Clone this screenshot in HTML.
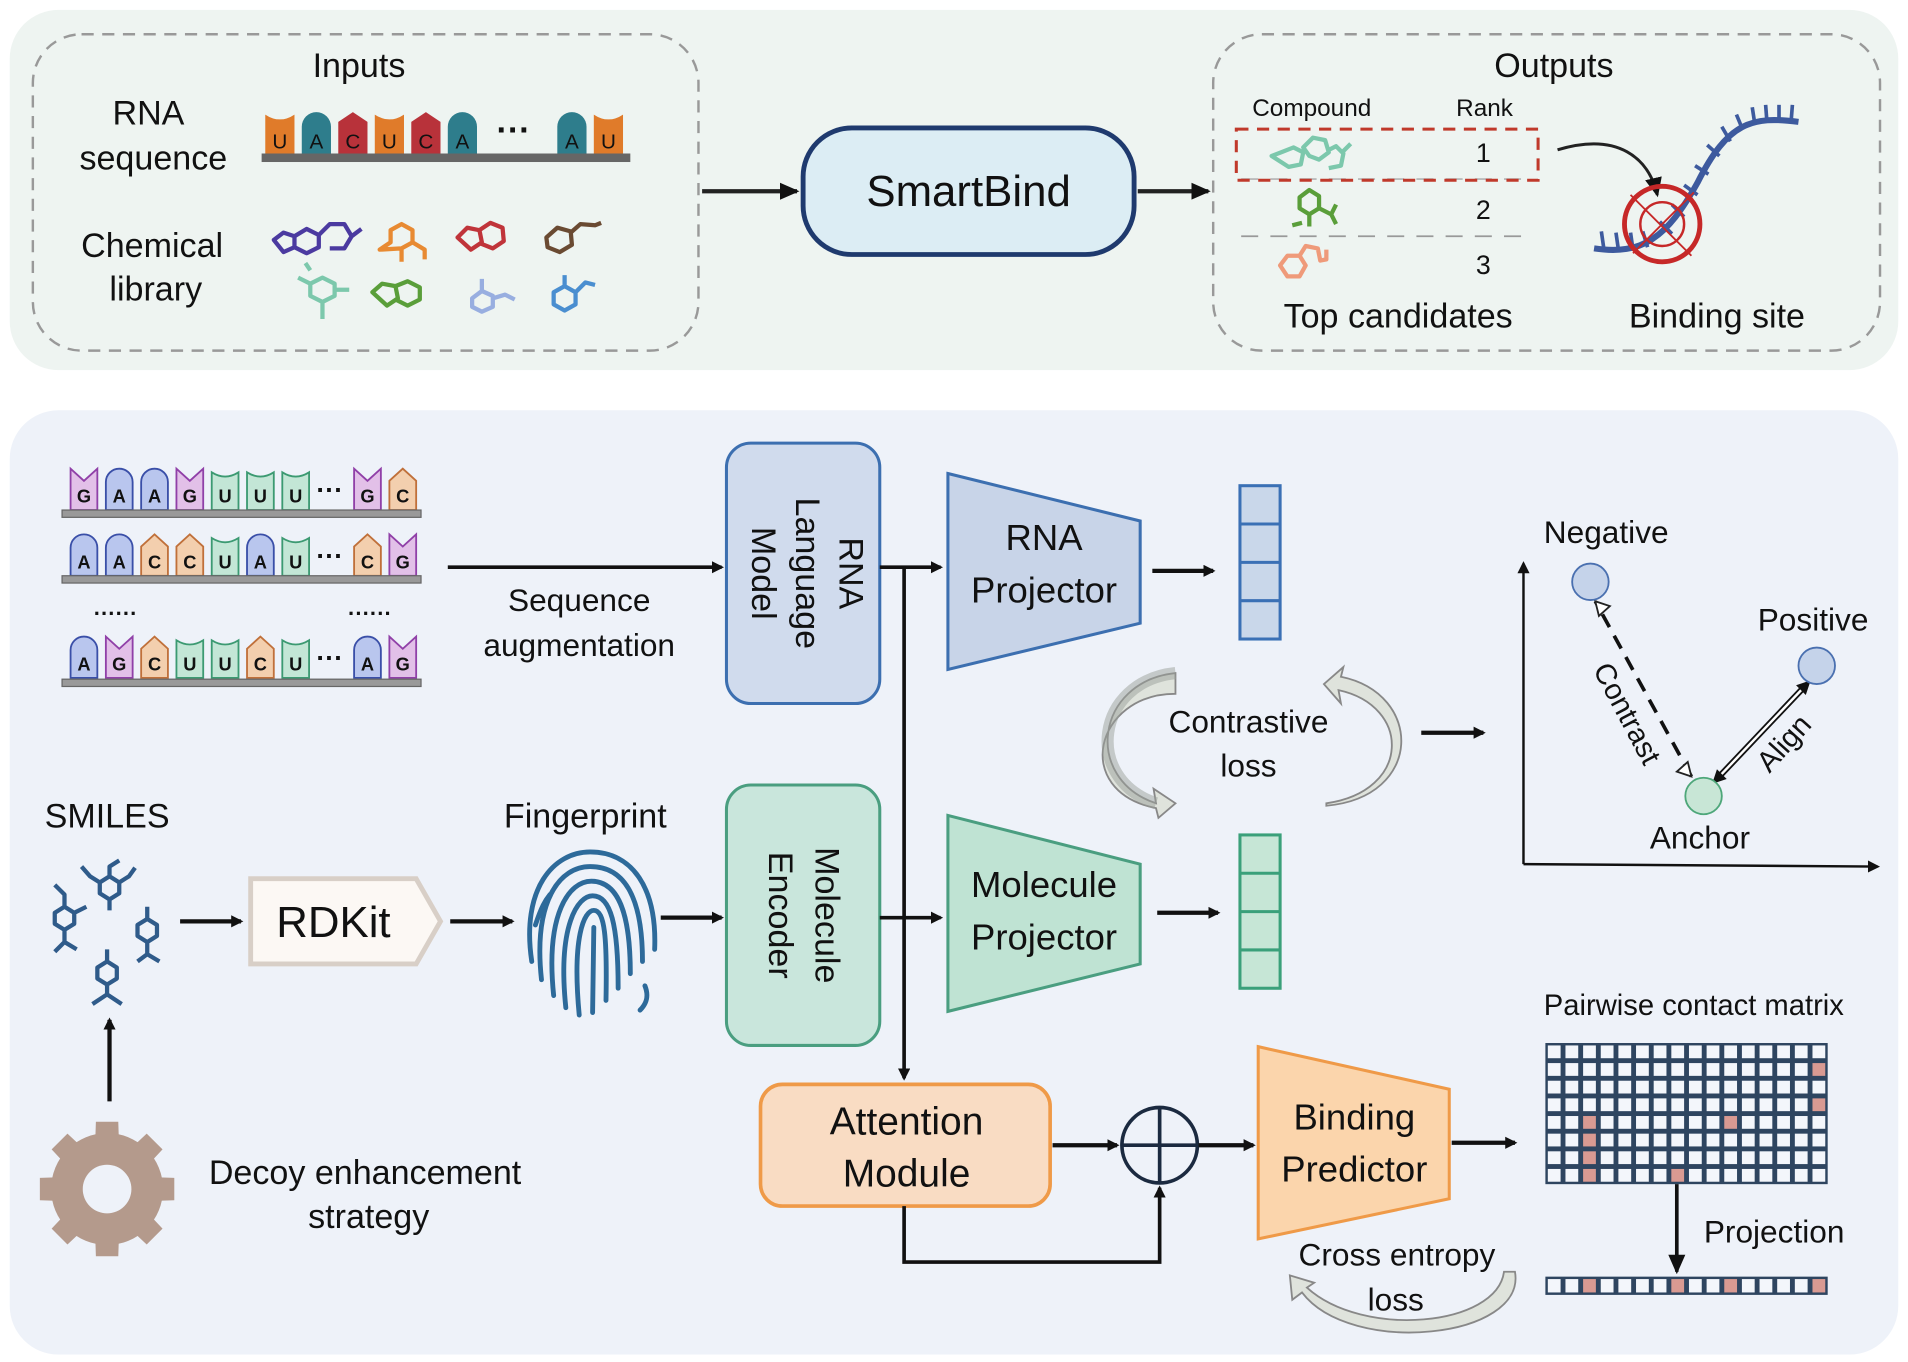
<!DOCTYPE html>
<html><head><meta charset="utf-8"><style>
html,body{margin:0;padding:0;background:#fff;}
svg{display:block;}
text{font-family:"Liberation Sans",sans-serif;fill:#111;}
</style></head><body>
<svg id="s" width="1908" height="1362" viewBox="0 0 1568 1119" xmlns="http://www.w3.org/2000/svg">
<defs>
<marker id="ah" markerWidth="10" markerHeight="10" refX="8" refY="5" orient="auto" markerUnits="userSpaceOnUse"><path d="M0,0 L10,5 L0,10 z" fill="#111"/></marker>
<marker id="ahb" markerWidth="16" markerHeight="16" refX="14" refY="8" orient="auto" markerUnits="userSpaceOnUse"><path d="M0,1 L16,8 L0,15 z" fill="#111"/></marker>
<marker id="tri" markerWidth="14" markerHeight="14" refX="12" refY="7" orient="auto" markerUnits="userSpaceOnUse"><path d="M1,1 L12,7 L1,13 z" fill="#fff" stroke="#222" stroke-width="1.5"/></marker>
</defs>
<!-- top panel -->
<rect x="8" y="8" width="1552" height="296" rx="40" fill="#eef4f1"/>
<rect x="27" y="28" width="547" height="260" rx="40" fill="none" stroke="#999" stroke-width="2" stroke-dasharray="10,7"/>
<rect x="997" y="28" width="548" height="260" rx="40" fill="none" stroke="#999" stroke-width="2" stroke-dasharray="10,7"/>
<g font-size="28" text-anchor="middle">
<text x="295" y="63">Inputs</text>
<text x="122" y="102">RNA</text>
<text x="126" y="139">sequence</text>
<text x="125" y="211">Chemical</text>
<text x="128" y="247">library</text>
<text x="1277" y="63">Outputs</text>
<text x="1149" y="269">Top candidates</text>
<text x="1411" y="269">Binding site</text>
</g>
<rect x="215" y="126" width="303" height="7" fill="#666"/>
<g id="topbases"></g>
<text x="422" y="116" font-size="28" text-anchor="middle" font-weight="bold">···</text>
<!-- chemical library doodles -->
<g fill="none" stroke-width="3.5" stroke-linejoin="round">
<path d="M225,197 l8,-6 l9,3 l0,9 l-9,4 z M242,194 l10,-6 l10,5 l0,10 l-10,5 l-10,-5 M262,193 l9,-9 l12,0 l6,10 l-6,10 l-12,0 M289,194 l8,-6" stroke="#4b3aa0"/>
<path d="M312,205 l9,-6 l0,-10 l9,-5 l9,5 l0,10 l-9,5 z M339,199 l10,6 l0,8 M330,205 l0,10" stroke="#e88a32"/>
<path d="M376,195 l8,-8 l10,2 l2,10 l-9,6 z M394,189 l9,-6 l10,4 l1,11 l-9,6 l-10,-4" stroke="#c0343a"/>
<path d="M449,195 l9,-8 l11,3 l1,11 l-10,6 l-10,-4 z M469,191 l8,-7 l12,1 l5,-2" stroke="#6a4a32"/>
<path d="M245,228 l10,5 l0,10 l10,5 l10,-5 l0,-10 l-10,-5 l-10,5 M265,248 l0,14 M275,238 l12,0 M255,222 l-4,-6" stroke="#7cc8ac"/>
<path d="M306,240 l8,-7 l11,2 l2,10 l-9,6 z M325,235 l10,-4 l10,5 l0,10 l-10,5 l-10,-5" stroke="#5a9e3a"/>
<path d="M388,245 l8,-6 l9,4 l0,9 l-9,4 l-8,-4 z M405,245 l10,-3 l8,4 M396,239 l0,-10" stroke="#98aee0"/>
<path d="M455,240 l9,-5 l9,5 l0,10 l-9,5 l-9,-5 z M473,240 l8,-8 l8,2 M464,235 l0,-9" stroke="#4a8ed0"/>
</g>
<!-- SmartBind -->
<line x1="577" y1="157" x2="655" y2="157" stroke="#222" stroke-width="3.5" marker-end="url(#ahb)"/>
<rect x="660" y="105" width="272" height="104" rx="40" fill="#dcedf4" stroke="#1f3a6e" stroke-width="4"/>
<text x="796" y="169" font-size="36" text-anchor="middle">SmartBind</text>
<line x1="935" y1="157" x2="993" y2="157" stroke="#222" stroke-width="3.5" marker-end="url(#ahb)"/>
<!-- outputs -->
<text x="1078" y="95" font-size="20" text-anchor="middle">Compound</text>
<text x="1220" y="95" font-size="20" text-anchor="middle">Rank</text>
<line x1="1020" y1="147" x2="1256" y2="147" stroke="#bbb" stroke-width="1.5" stroke-dasharray="14,10"/>
<line x1="1020" y1="194" x2="1256" y2="194" stroke="#999" stroke-width="1.5" stroke-dasharray="14,10"/>
<rect x="1016" y="106" width="248" height="42" fill="none" stroke="#c0392b" stroke-width="2.5" stroke-dasharray="10,7"/>
<g font-size="22" text-anchor="middle"><text x="1219" y="133">1</text><text x="1219" y="180">2</text><text x="1219" y="225">3</text></g>
<g fill="none" stroke-width="3.5" stroke-linejoin="round">
<path d="M1045,128 l8,-3 l10,-4 l8,4 l-2,10 l-10,2 z M1071,121 l8,-8 l10,2 l3,10 l-8,6 l-8,-3 z M1092,123 l6,-3 l6,6 l-2,10 l-10,2 M1104,124 l6,-6" stroke="#7cc8ac"/>
<path d="M1068,162 l8,-6 l8,5 l0,10 l-8,5 l-8,-5 z M1076,176 l0,10 M1070,183 l-8,2 M1084,171 l10,5 l4,8 M1094,176 l4,-8" stroke="#5a9e3a"/>
<path d="M1052,218 l6,-8 l10,0 l5,8 l-5,9 l-10,0 z M1068,210 l5,-8 l10,2 l2,10 l5,-1 l0,-8" stroke="#ef9a7a"/>
</g>
<path d="M1280,123 C1330,108 1355,130 1362,160" fill="none" stroke="#222" stroke-width="2.5" marker-end="url(#ahb)"/>
<path d="M1310,204 C1350,210 1370,195 1395,150 C1420,100 1440,95 1478,100" fill="none" stroke="#3d5a9e" stroke-width="5"/>
<g id="ticks" stroke="#3d5a9e" stroke-width="3"></g>
<circle cx="1366" cy="184" r="31" fill="none" stroke="#c62828" stroke-width="4"/>
<circle cx="1366" cy="184" r="18" fill="none" stroke="#c62828" stroke-width="2"/>
<path d="M1340,160 l50,50 M1392,158 l-50,50" stroke="#c62828" stroke-width="1.5"/>
<!-- bottom panel -->
<rect x="8" y="337" width="1552" height="776" rx="40" fill="#eef2f9"/>
<g id="bases2"></g>
<rect x="51" y="419" width="295" height="6" fill="#999" stroke="#666"/>
<rect x="51" y="473" width="295" height="6" fill="#999" stroke="#666"/>
<rect x="51" y="558" width="295" height="6" fill="#999" stroke="#666"/>
<g font-size="22" font-weight="bold" text-anchor="middle"><text x="271" y="410">···</text><text x="271" y="464">···</text><text x="271" y="548">···</text>
<text x="95" y="510" font-size="18">······</text><text x="304" y="510" font-size="18">······</text></g>
<line x1="368" y1="466" x2="593" y2="466" stroke="#111" stroke-width="3" marker-end="url(#ah)"/>
<g font-size="26" text-anchor="middle"><text x="476" y="502">Sequence</text><text x="476" y="539">augmentation</text></g>
<rect x="597" y="364" width="126" height="214" rx="20" fill="#d0dbed" stroke="#3c6fb0" stroke-width="2.5"/>
<g font-size="28" text-anchor="middle" transform="translate(660,471) rotate(90)"><text x="0" y="-30">RNA</text><text x="0" y="6">Language</text><text x="0" y="42">Model</text></g>
<line x1="723" y1="466" x2="773" y2="466" stroke="#111" stroke-width="3" marker-end="url(#ah)"/>
<line x1="743" y1="466" x2="743" y2="886" stroke="#111" stroke-width="3" marker-end="url(#ah)"/>
<polygon points="779,389 937,428 937,512 779,550" fill="#c8d4e8" stroke="#3c6fb0" stroke-width="2.5"/>
<g font-size="30" text-anchor="middle"><text x="858" y="452">RNA</text><text x="858" y="495">Projector</text></g>
<line x1="947" y1="469" x2="997" y2="469" stroke="#111" stroke-width="3.5" marker-end="url(#ah)"/>
<rect x="1019" y="399" width="33" height="126" fill="#c9d7ea" stroke="#3a70b5" stroke-width="2.5"/>
<path d="M1019,430.5h33M1019,462h33M1019,493.5h33" stroke="#3a70b5" stroke-width="2.5"/>
<!-- contrastive -->
<path d="M966,553 C900,560 890,640 950,660 L948,648 L966,660 L952,672 L950,664 C880,650 900,570 966,570 z" fill="#dfe3dc" stroke="#888" stroke-width="1.5"/>
<path d="M1090,660 C1160,650 1160,580 1100,567 L1102,578 L1088,562 L1104,548 L1102,556 C1170,570 1170,655 1090,662 z" fill="#dfe3dc" stroke="#888" stroke-width="1.5"/>
<path d="M966,553 C900,560 890,640 950,660" fill="none" stroke="#9aa09a" stroke-width="10" opacity="0.5"/>
<g font-size="26" text-anchor="middle"><text x="1026" y="602">Contrastive</text><text x="1026" y="638">loss</text></g>
<line x1="1168" y1="602" x2="1219" y2="602" stroke="#111" stroke-width="3.5" marker-end="url(#ah)"/>
<!-- plot -->
<line x1="1252" y1="710" x2="1252" y2="463" stroke="#111" stroke-width="2" marker-end="url(#ah)"/>
<line x1="1252" y1="710" x2="1543" y2="712" stroke="#111" stroke-width="2" marker-end="url(#ah)"/>
<line x1="1390" y1="638" x2="1311" y2="494" stroke="#111" stroke-width="3" stroke-dasharray="12,8"/>
<path d="M1311,494 l12,4 l-9,8 z" fill="#fff" stroke="#222" stroke-width="1.5"/>
<path d="M1390,638 l-12,-4 l9,-8 z" fill="#fff" stroke="#222" stroke-width="1.5"/>
<line x1="1411" y1="640" x2="1484" y2="563" stroke="#111" stroke-width="5"/>
<line x1="1411" y1="640" x2="1484" y2="563" stroke="#fff" stroke-width="2"/>
<path d="M1407,644 l4,-12 l8,8 z M1488,559 l-4,12 l-8,-8 z" fill="#111"/>
<circle cx="1307" cy="478" r="15" fill="#c5d3ea" stroke="#4a70b0" stroke-width="1.5"/>
<circle cx="1493" cy="547" r="15" fill="#c5d3ea" stroke="#4a70b0" stroke-width="1.5"/>
<circle cx="1400" cy="654" r="15" fill="#c8e6d6" stroke="#4ea77a" stroke-width="1.5"/>
<g font-size="26" text-anchor="middle"><text x="1320" y="446">Negative</text><text x="1490" y="518">Positive</text><text x="1397" y="697">Anchor</text>
<text transform="translate(1330,590) rotate(62)" font-size="24">Contrast</text>
<text transform="translate(1472,616) rotate(-48)" font-size="24">Align</text></g>
<!-- molecule path -->
<text x="88" y="680" font-size="28" text-anchor="middle">SMILES</text>
<g fill="none" stroke="#2f5b8a" stroke-width="3.5" stroke-linejoin="round">
<path d="M82,725 l8,-5 l8,5 l0,9 l-8,5 l-8,-5 z M90,720 l0,-8 l8,-5 M98,725 l8,-5 l5,-7 M82,725 l-8,-5 l-7,-8 M90,739 l0,9"/>
<path d="M45,750 l8,-5 l8,5 l0,9 l-8,5 l-8,-5 z M53,745 l0,-10 l-8,-8 M53,764 l0,10 l-8,8 M53,774 l10,6 M61,750 l10,-5"/>
<path d="M113,760 l8,-5 l8,5 l0,9 l-8,5 l-8,-5 z M121,755 l0,-10 M121,774 l0,10 l-8,6 M121,784 l10,6"/>
<path d="M80,795 l8,-5 l8,5 l0,9 l-8,5 l-8,-5 z M88,790 l0,-10 M88,809 l0,8 l-12,8 M88,817 l12,8"/>
</g>
<line x1="148" y1="757" x2="198" y2="757" stroke="#111" stroke-width="3.5" marker-end="url(#ah)"/>
<polygon points="206,722 342,722 362,757 342,792 206,792" fill="#fcf8f4" stroke="#d8cfc7" stroke-width="4"/>
<text x="274" y="770" font-size="36" text-anchor="middle">RDKit</text>
<line x1="370" y1="757" x2="421" y2="757" stroke="#111" stroke-width="3.5" marker-end="url(#ah)"/>
<text x="481" y="680" font-size="28" text-anchor="middle">Fingerprint</text>
<g fill="none" stroke="#2d6a9a" stroke-width="4" stroke-linecap="round">
<path d="M437,790 C428,730 455,700 485,700 C520,700 540,730 538,780"/>
<path d="M445,805 C438,740 460,712 485,712 C515,712 528,740 528,790"/>
<path d="M455,818 C448,750 468,724 486,724 C508,724 518,750 518,800"/>
<path d="M465,828 C458,760 475,736 487,736 C502,736 508,760 508,812"/>
<path d="M476,834 C470,770 480,748 488,748 C497,748 499,770 498,822"/>
<path d="M487,832 L488,762"/>
<path d="M440,760 C445,745 448,740 452,735 M530,810 C534,820 530,826 526,830"/>
</g>
<line x1="543" y1="754" x2="593" y2="754" stroke="#111" stroke-width="3.5" marker-end="url(#ah)"/>
<rect x="597" y="645" width="126" height="214" rx="20" fill="#c9e6dc" stroke="#4a9e80" stroke-width="2.5"/>
<g font-size="28" text-anchor="middle" transform="translate(660,752) rotate(90)"><text x="0" y="-10">Molecule</text><text x="0" y="28">Encoder</text></g>
<line x1="723" y1="754" x2="773" y2="754" stroke="#111" stroke-width="3" marker-end="url(#ah)"/>
<polygon points="779,670 937,710 937,792 779,831" fill="#bfe3d3" stroke="#4a9e80" stroke-width="2.5"/>
<g font-size="30" text-anchor="middle"><text x="858" y="737">Molecule</text><text x="858" y="780">Projector</text></g>
<line x1="951" y1="750" x2="1001" y2="750" stroke="#111" stroke-width="3.5" marker-end="url(#ah)"/>
<rect x="1019" y="686" width="33" height="126" fill="#c6e6d6" stroke="#3aa07a" stroke-width="2.5"/>
<path d="M1019,717.5h33M1019,749h33M1019,780.5h33" stroke="#3aa07a" stroke-width="2.5"/>
<!-- decoy -->
<line x1="90" y1="905" x2="90" y2="838" stroke="#111" stroke-width="3.5" marker-end="url(#ah)"/>
<g transform="translate(88,977)"><g id="gear" fill="#b49a8c"></g><circle r="20" fill="#eef2f9"/></g>
<g font-size="28" text-anchor="middle"><text x="300" y="973">Decoy enhancement</text><text x="303" y="1009">strategy</text></g>
<!-- attention -->
<rect x="625" y="891" width="238" height="100" rx="18" fill="#f9dcc3" stroke="#ef9a48" stroke-width="3"/>
<g font-size="32" text-anchor="middle"><text x="745" y="932">Attention</text><text x="745" y="975">Module</text></g>
<line x1="865" y1="941" x2="918" y2="941" stroke="#111" stroke-width="3.5" marker-end="url(#ah)"/>
<circle cx="953" cy="941" r="31" fill="none" stroke="#1b2a40" stroke-width="3"/>
<path d="M922,941h62M953,910v62" stroke="#1b2a40" stroke-width="3"/>
<polyline points="743,991 743,1037 953,1037 953,976" fill="none" stroke="#111" stroke-width="3" marker-end="url(#ah)"/>
<line x1="985" y1="941" x2="1030" y2="941" stroke="#111" stroke-width="3.5" marker-end="url(#ah)"/>
<polygon points="1034,860 1191,895 1191,985 1034,1018" fill="#fbd5ac" stroke="#ef9a48" stroke-width="2.5"/>
<g font-size="30" text-anchor="middle"><text x="1113" y="928">Binding</text><text x="1113" y="971">Predictor</text></g>
<line x1="1193" y1="939" x2="1245" y2="939" stroke="#111" stroke-width="3.5" marker-end="url(#ah)"/>
<text x="1392" y="834" font-size="24" text-anchor="middle">Pairwise contact matrix</text>
<g id="grid"></g>
<line x1="1378" y1="973" x2="1378" y2="1045" stroke="#111" stroke-width="3" marker-end="url(#ahb)"/>
<text x="1458" y="1021" font-size="26" text-anchor="middle">Projection</text>
<g font-size="26" text-anchor="middle"><text x="1148" y="1040">Cross entropy</text><text x="1147" y="1077">loss</text></g>
<path d="M1245,1045 C1255,1100 1110,1115 1070,1062 L1062,1068 L1060,1048 L1080,1054 L1074,1058 C1120,1100 1230,1090 1236,1045 z" fill="#dfe3dc" stroke="#888" stroke-width="1.5"/>
</svg>
<script>
var NS="http://www.w3.org/2000/svg";
function el(p,t,a,txt){var e=document.createElementNS(NS,t);for(var k in a)e.setAttribute(k,a[k]);if(txt)e.textContent=txt;p.appendChild(e);return e;}
var C={A:["#b9c6ee","#3a4fa8"],G:["#e2c0e8","#9040a8"],C:["#f3cfae","#c0703a"],U:["#c3e6d6","#3c9a72"]};
function base(g,x,y,L,w,h){var c=C[L];var d;
 if(L=="A")d="M"+x+","+(y+h)+"V"+(y+w/2)+"A"+w/2+","+w/2+" 0 0 1 "+(x+w)+","+(y+w/2)+"V"+(y+h)+"z";
 else if(L=="G")d="M"+x+","+(y+h)+"V"+y+"L"+(x+w/2)+","+(y+10)+"L"+(x+w)+","+y+"V"+(y+h)+"z";
 else if(L=="C")d="M"+x+","+(y+h)+"V"+(y+10)+"L"+(x+w/2)+","+y+"L"+(x+w)+","+(y+10)+"V"+(y+h)+"z";
 else d="M"+x+","+(y+h)+"V"+(y+3)+"Q"+(x+w/2)+","+(y+10)+" "+(x+w)+","+(y+3)+"V"+(y+h)+"z";
 el(g,"path",{d:d,fill:c[0],stroke:c[1],"stroke-width":1.5});
 el(g,"text",{x:x+w/2,y:y+h-6,"font-size":15,"font-weight":"bold","text-anchor":"middle",fill:"#222"},L);}
var g2=document.getElementById("bases2");
var xs=[58,87,116,145,174,203,232,291,320];
var rows=[["GAAGUUUGC",385],["AACCUAUCG",439],["AGCUUCUAG",523]];
rows.forEach(function(r){for(var i=0;i<9;i++)base(g2,xs[i],r[1],r[0][i],22,34);});
// top bases
var tb=document.getElementById("topbases");
var TC={U:["#e07b2a","#e07b2a"],A:["#2e7d8c","#2e7d8c"],C:["#b8323a","#b8323a"]};
var tl="UACUCAAU",tx=[218,248,278,308,338,368,458,488];
for(var i=0;i<8;i++){var L=tl[i],x=tx[i],w=24,y=92,h=34,d;
 if(L=="A")d="M"+x+","+(y+h)+"V"+(y+w/2)+"A12,12 0 0 1 "+(x+w)+","+(y+w/2)+"V"+(y+h)+"z";
 else if(L=="C")d="M"+x+","+(y+h)+"V"+(y+8)+"L"+(x+w/2)+","+y+"L"+(x+w)+","+(y+8)+"V"+(y+h)+"z";
 else d="M"+x+","+(y+h)+"V"+(y+2)+"Q"+(x+w/2)+","+(y+10)+" "+(x+w)+","+(y+2)+"V"+(y+h)+"z";
 el(tb,"path",{d:d,fill:TC[L][0]});
 el(tb,"text",{x:x+w/2,y:y+h-4,"font-size":17,"text-anchor":"middle",fill:"#fff"},L);}
// ticks on binding RNA
var tk=document.getElementById("ticks");
var pts=[[1318,204,1316,190],[1330,205,1328,191],[1342,205,1340,191],[1354,203,1350,190],[1374,192,1364,182],[1384,178,1374,168],[1395,160,1384,152],[1404,143,1393,136],[1413,128,1403,119],[1422,116,1415,104],[1432,106,1427,94],[1442,101,1440,88],[1452,99,1451,86],[1462,99,1462,86],[1472,99,1473,86]];
pts.forEach(function(p){el(tk,"line",{x1:p[0],y1:p[1],x2:p[2],y2:p[3]});});
// gear
var ge=document.getElementById("gear");var d="";
for(var i=0;i<8;i++){var a=i*Math.PI/4;var ca=Math.cos(a),sa=Math.sin(a);
 var w=0.22;
 d+="M"+(44*Math.cos(a-w))+","+(44*Math.sin(a-w))+"L"+(56*Math.cos(a-w*0.75))+","+(56*Math.sin(a-w*0.75))+"L"+(56*Math.cos(a+w*0.75))+","+(56*Math.sin(a+w*0.75))+"L"+(44*Math.cos(a+w))+","+(44*Math.sin(a+w))+"z";}
el(ge,"path",{d:d});el(ge,"circle",{r:46});
// grid
var gr=document.getElementById("grid");
var cw=232/16,chh=116/8;
el(gr,"rect",{x:1270,y:857,width:232,height:116,fill:"#2e4560"});
var pink={"1,15":1,"3,15":1,"4,2":1,"4,10":1,"5,2":1,"6,2":1,"7,2":1,"7,7":1};
for(var r=0;r<8;r++)for(var c=0;c<16;c++)el(gr,"rect",{x:1270+c*cw+2,y:857+r*chh+2,width:cw-4,height:chh-4,fill:pink[r+","+c]?"#d99a92":"#f3f6fb"});
el(gr,"rect",{x:1270,y:1049,width:232,height:15,fill:"#2e4560"});
var bp=[2,7,10,15];
for(var c=0;c<16;c++)el(gr,"rect",{x:1270+c*cw+2,y:1051,width:cw-4,height:11,fill:bp.indexOf(c)>=0?"#d99a92":"#f3f6fb"});
</script>
</body></html>
